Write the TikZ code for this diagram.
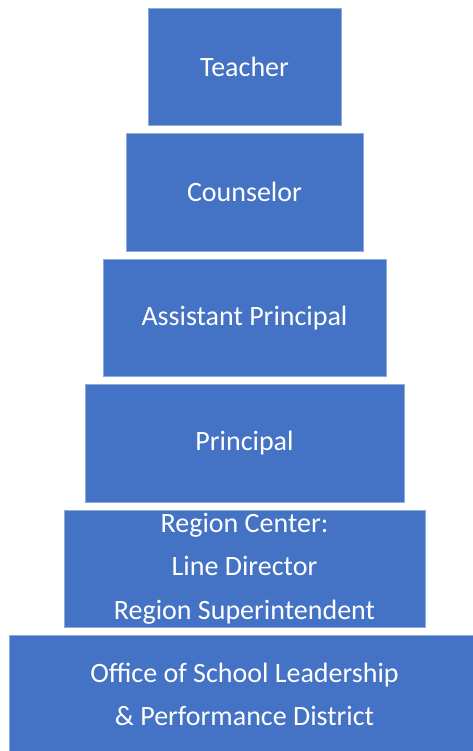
\documentclass[tikz,border=0pt]{standalone}
\usepackage{fontspec}
\setmainfont{Carlito}
\usetikzlibrary{positioning}
\definecolor{tierblue}{HTML}{4472C4}

\begin{document}
\begin{tikzpicture}[%
    x=1pt, y=-1pt,
    node distance=8pt,
    tier/.style={rectangle, fill=tierblue, draw=tierblue!60!white,
      line width=0.6pt, text=white, inner sep=0pt, outer sep=0pt,
      minimum height=117.5pt, align=center,
      font=\fontsize{28}{43.5}\selectfont}
  ]
  \useasboundingbox (0,0) rectangle (473,751);
  \clip (0,0) rectangle (473,751);

  \node[tier, minimum width=193pt] (teacher) at (244.5,66.75) {Teacher};
  \node[tier, minimum width=237pt] (counselor) [below=of teacher] {Counselor};
  \node[tier, minimum width=283pt] (ap) [below=of counselor] {Assistant Principal};
  \node[tier, minimum width=319pt] (principal) [below=of ap] {Principal};
  \node[tier, minimum width=361pt] (region) [below=of principal] {Region Center:\\Line Director\\Region Superintendent};
  \node[tier, minimum width=471pt] (office) [below=of region] {Office of School Leadership\\\& Performance District};

\end{tikzpicture}
\end{document}
